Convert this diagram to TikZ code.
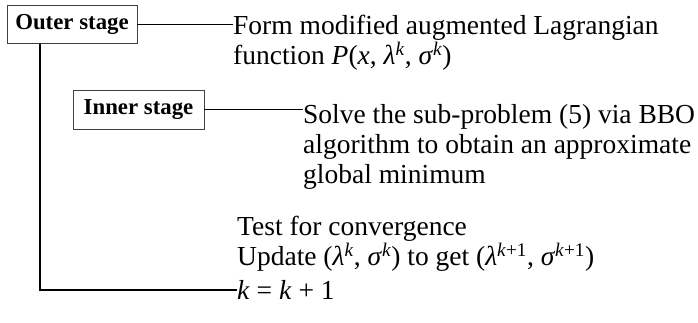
\documentclass[tikz,border=0pt]{standalone}
\usepackage{fontspec}
\setmainfont{Liberation Serif}
\begin{document}
\begin{tikzpicture}[x=1pt,y=-1pt,
  stagebox/.style={draw=black!75,line width=0.9pt,minimum width=130pt,minimum height=38pt,inner sep=0pt,font=\fontsize{22.8}{24}\selectfont\bfseries},
  body/.style={inner sep=0pt,align=left,anchor=west,font=\fontsize{27.5}{30}\selectfont},
  conn/.style={line width=1.4pt}]
\useasboundingbox (0,0) rectangle (698,322);
\node[stagebox] (outer) at (72,24.5) {Outer stage};
\node[stagebox,minimum width=131pt,minimum height=39pt] (inner) at (138.5,109.5) {Inner stage};
\node[body] (t1) at (233,43) {Form modified augmented Lagrangian\\function \textit{P}(\textit{x}, \textit{λ}\textsuperscript{\textit{k}}, \textit{σ}\textsuperscript{\textit{k}})};
\node[body] (t2) at (303,146.5) {Solve the sub-problem (5) via BBO\\algorithm to obtain an approximate\\global minimum};
\node[body] (t3) at (237,243.5) {Test for convergence\\Update (\textit{λ}\textsuperscript{\textit{k}}, \textit{σ}\textsuperscript{\textit{k}}) to get (\textit{λ}\textsuperscript{\textit{k}+1}, \textit{σ}\textsuperscript{\textit{k}+1})};
\node[body] (t4) at (237,290) {\textit{k} = \textit{k} + 1};
\draw[conn] (outer.east) -- (outer.east -| t1.west);
\draw[conn] (inner.east) -- (inner.east -| t2.west);
\draw[conn] (outer.south -| 40,0) -- (40,0 |- t4.west) -- (t4.west);
\end{tikzpicture}
\end{document}
